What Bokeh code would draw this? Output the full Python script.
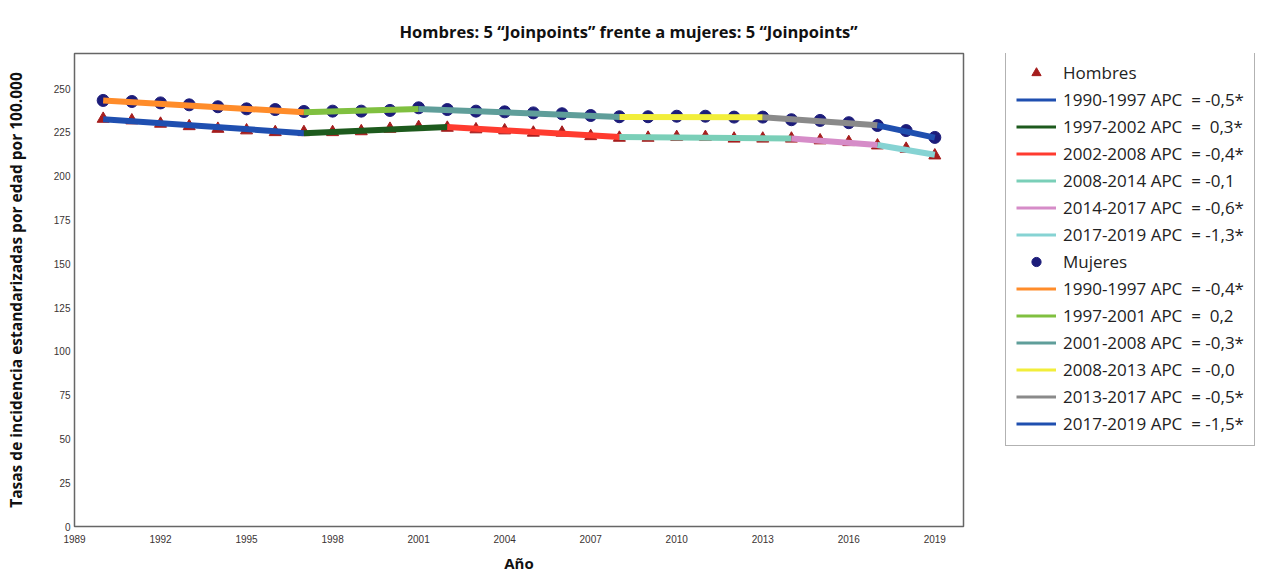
from bokeh.plotting import figure
from bokeh.layouts import row
from bokeh.models import Legend, LegendItem, FixedTicker, Range1d
from bokeh.embed import file_html
from bokeh.resources import INLINE

years = list(range(1990, 2020))

# Observed rates (markers)
hombres = [232.7, 231.8, 229.9, 228.5, 227.0, 226.1, 225.1, 225.1, 225.1, 225.6,
           227.0, 228.0, 227.6, 226.7, 226.1, 224.8, 224.8, 222.8, 221.9, 221.9,
           222.3, 222.3, 221.4, 221.4, 221.4, 220.4, 219.4, 217.5, 215.6, 211.8]
mujeres = [243.2, 242.6, 241.8, 240.7, 239.6, 238.4, 238.0, 236.9, 237.1, 237.1,
           237.5, 239.0, 238.0, 237.1, 236.7, 236.1, 235.6, 234.6, 233.9, 233.9,
           234.2, 234.2, 233.7, 233.7, 232.2, 231.8, 230.5, 228.9, 226.0, 222.1]

# Joinpoint fitted values
jp_h_years = [1990, 1997, 2002, 2008, 2014, 2017, 2019]
jp_h_fit = [232.5, 224.5, 228.0, 222.4, 221.5, 217.8, 212.2]
jp_m_years = [1990, 1997, 2001, 2008, 2013, 2017, 2019]
jp_m_fit = [243.2, 236.5, 238.3, 233.8, 233.6, 229.0, 222.0]

h_labels = ["1990-1997 APC  = -0,5*", "1997-2002 APC  =  0,3*", "2002-2008 APC  = -0,4*",
            "2008-2014 APC  = -0,1", "2014-2017 APC  = -0,6*", "2017-2019 APC  = -1,3*"]
m_labels = ["1990-1997 APC  = -0,4*", "1997-2001 APC  =  0,2", "2001-2008 APC  = -0,3*",
            "2008-2013 APC  = -0,0", "2013-2017 APC  = -0,5*", "2017-2019 APC  = -1,5*"]
h_colors = ["#1f4fb0", "#1d5a1d", "#ff3b2f", "#7acfb8", "#d68cc8", "#86d3d3"]
m_colors = ["#ff8c2a", "#80c040", "#5f9e9a", "#f2ee3a", "#8a8a8a", "#1f4faf"]

x_ticks = list(range(1989, 2020, 3))
y_ticks = list(range(0, 251, 25))

TRI_COLOR = "#a51d1d"
CIR_COLOR = "#1c1c7a"
NAN = float("nan")

p = figure(width=973, height=575, output_backend="svg", toolbar_location=None,
           x_range=Range1d(1989, 2020), y_range=Range1d(0, 270),
           min_border_left=74, min_border_right=10, min_border_top=53, min_border_bottom=48)

p.title.text = "Hombres: 5 \u201cJoinpoints\u201d frente a mujeres: 5 \u201cJoinpoints\u201d"
p.title.text_font = "Open Sans"
p.title.text_font_style = "bold"
p.title.text_font_size = "16.5px"
p.title.align = "left"
p.title.offset = 325
p.title.standoff = 22
p.title.text_color = "#111111"

p.xgrid.visible = False
p.ygrid.visible = False
p.outline_line_color = "#666666"
p.outline_line_width = 1.5

for ax in (p.xaxis[0], p.yaxis[0]):
    ax.axis_line_color = None
    ax.major_tick_line_color = None
    ax.minor_tick_line_color = None
    ax.major_tick_out = 0
    ax.major_tick_in = 0
    ax.minor_tick_out = 0
    ax.major_label_text_font = "Liberation Sans"
    ax.major_label_text_font_size = "10px"
    ax.major_label_text_color = "#3a3333"
    ax.axis_label_text_font = "Open Sans"
    ax.axis_label_text_font_style = "bold"
    ax.axis_label_text_color = "#111111"

p.xaxis.ticker = FixedTicker(ticks=x_ticks)
p.yaxis.ticker = FixedTicker(ticks=y_ticks)
p.xaxis.major_label_standoff = 8
p.yaxis.major_label_standoff = 4
p.xaxis.axis_label = "A\u00f1o"
p.xaxis.axis_label_text_font_size = "15px"
p.xaxis.axis_label_standoff = 7
p.yaxis.axis_label = "Tasas de incidencia estandarizadas por edad por 100.000"
p.yaxis.axis_label_text_font_size = "15.5px"
p.yaxis.axis_label_standoff = 24

# markers (observed)
p.scatter(years, hombres, marker="triangle", size=12, fill_color=TRI_COLOR, line_color=TRI_COLOR)
p.scatter(years, mujeres, marker="circle", size=12, fill_color=CIR_COLOR, line_color=CIR_COLOR)

# fitted joinpoint segments
for i in range(len(jp_h_years) - 1):
    p.line(jp_h_years[i:i + 2], jp_h_fit[i:i + 2], line_width=6, line_color=h_colors[i])
for i in range(len(jp_m_years) - 1):
    p.line(jp_m_years[i:i + 2], jp_m_fit[i:i + 2], line_width=6, line_color=m_colors[i])

# legend panel
p2 = figure(width=285, height=575, output_backend="svg", toolbar_location=None,
            x_range=Range1d(0, 1), y_range=Range1d(0, 1), min_border=0)
p2.axis.visible = False
p2.grid.visible = False
p2.outline_line_color = None

tri_proxy = p2.scatter([NAN], [NAN], marker="triangle", size=12, fill_color=TRI_COLOR,
                       line_color=TRI_COLOR)
cir_proxy = p2.scatter([NAN], [NAN], marker="circle", size=12, fill_color=CIR_COLOR,
                       line_color=CIR_COLOR)
items = [LegendItem(label="Hombres", renderers=[tri_proxy])]
for lab, col in zip(h_labels, h_colors):
    r = p2.line([NAN, NAN], [NAN, NAN], line_width=3, line_color=col)
    items.append(LegendItem(label=lab, renderers=[r]))
items.append(LegendItem(label="Mujeres", renderers=[cir_proxy]))
for lab, col in zip(m_labels, m_colors):
    r = p2.line([NAN, NAN], [NAN, NAN], line_width=3, line_color=col)
    items.append(LegendItem(label=lab, renderers=[r]))

legend = Legend(items=items, location=(32, 80), glyph_width=40, glyph_height=23,
                label_height=23, spacing=4, padding=10, margin=0, label_standoff=7,
                label_text_font="Open Sans", label_text_font_size="17px",
                label_text_color="#222222", border_line_color="#666666",
                border_line_width=1.5, background_fill_color="white",
                background_fill_alpha=1.0)
p2.add_layout(legend, "center")

layout = row(p, p2)
open("out.html", "w").write(file_html(layout, INLINE))
